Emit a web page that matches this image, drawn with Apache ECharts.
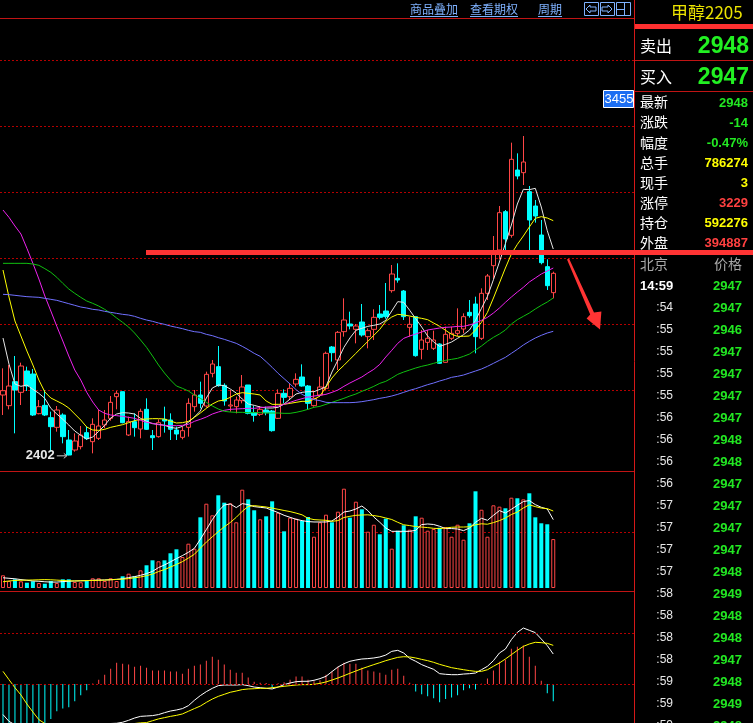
<!DOCTYPE html>
<html><head><meta charset="utf-8">
<script src="https://cdn.jsdelivr.net/npm/echarts@6.0.0/dist/echarts.min.js"></script>
<style>html,body{margin:0;padding:0;background:#000;overflow:hidden}#c{width:753px;height:723px}</style>
</head><body><div id="c"></div>
<script>
// ---------- data ----------
const opens  = [2583,2551,2623,2591,2655,2646,2527,2552,2515,2486, 2523,2448,2418,2428,2470,2443,2453,2493,2513,2578, 2593,2463,2503,2481,2540,2461,2458,2510,2508,2478, 2456,2486,2548,2583,2550,2648,2668,2612,2550,2548, 2566,2613,2530,2525,2538,2535,2513,2588,2578,2616, 2637,2610,2551,2583,2603,2727,2688,2773,2796,2780, 2802,2758,2780,2826,2835,2896,2933,2895,2786,2818, 2720,2741,2723,2736,2681,2753,2768,2781,2831,2856, 2753,2888,2971,3018,3133,3062,3258,3250,3193,3150, 3063,2968,2890];
const closes = [2596,2610,2598,2670,2610,2523,2548,2523,2488,2538, 2458,2403,2445,2463,2452,2495,2490,2508,2561,2588, 2500,2503,2485,2534,2480,2455,2500,2505,2480,2466, 2476,2558,2583,2558,2645,2676,2611,2565,2553,2568, 2607,2528,2522,2540,2530,2476,2588,2576,2603,2630, 2610,2558,2573,2607,2708,2710,2771,2808,2790,2790, 2763,2776,2816,2816,2818,2946,2928,2818,2795,2701, 2748,2753,2748,2678,2765,2768,2776,2818,2821,2758, 2888,2940,3008,3130,3051,3290,3240,3282,3108,3120, 2980,2911,2948];
const highs  = [2663,2673,2700,2680,2668,2661,2568,2598,2533,2550, 2528,2478,2468,2490,2488,2513,2538,2538,2580,2595, 2593,2518,2528,2542,2573,2478,2510,2548,2528,2488, 2488,2573,2598,2623,2653,2688,2730,2618,2598,2578, 2643,2613,2551,2550,2548,2538,2600,2600,2618,2648, 2675,2613,2593,2638,2713,2730,2775,2873,2833,2796, 2856,2783,2840,2853,2919,2973,2978,2898,2818,2818, 2778,2778,2776,2738,2788,2788,2843,2828,2868,2878, 2903,2946,3060,3150,3138,3340,3308,3360,3210,3168, 3108,2990,2953];
const lows   = [2523,2540,2468,2553,2595,2520,2525,2520,2413,2473, 2438,2402,2413,2420,2448,2408,2448,2483,2506,2540, 2498,2460,2458,2453,2478,2418,2455,2470,2448,2448, 2450,2458,2533,2543,2545,2636,2608,2551,2533,2528, 2558,2525,2503,2520,2522,2473,2511,2558,2568,2608, 2608,2538,2548,2578,2598,2683,2658,2758,2780,2738, 2758,2723,2748,2810,2812,2890,2920,2808,2758,2698, 2690,2718,2718,2676,2680,2748,2760,2768,2815,2708, 2748,2868,2930,2990,3018,3055,3230,3213,3018,3100, 2975,2898,2873];
const ma5    = [2754,2676,2616,2609,2613,2600,2588,2573,2543,2526, 2510,2493,2475,2462,2451,2457,2474,2492,2514,2526, 2530,2529,2526,2513,2504,2497,2495,2492,2486,2483, 2489,2501,2517,2535,2574,2604,2613,2611,2601,2589, 2571,2556,2552,2547,2544,2544,2546,2556,2571,2586, 2591,2593,2593,2600,2608,2652,2688,2726,2754,2777, 2783,2789,2792,2796,2807,2835,2863,2861,2837,2812, 2787,2760,2742,2729,2735,2742,2753,2764,2778,2807, 2843,2879,2929,2982,3037,3093,3156,3200,3199,3203, 3147,3076,3021];
const ma10   = [2958,2877,2805,2760,2715,2673,2628,2592,2574,2565, 2556,2544,2526,2508,2487,2478,2477,2480,2486,2490, 2494,2500,2506,2510,2511,2512,2512,2511,2505,2499, 2500,2504,2516,2529,2543,2556,2565,2568,2576,2586, 2590,2588,2586,2583,2565,2555,2555,2555,2558,2561, 2564,2564,2570,2580,2607,2634,2655,2672,2690,2708, 2726,2744,2762,2780,2804,2817,2825,2823,2820,2816, 2813,2809,2799,2789,2777,2765,2759,2759,2760,2778, 2801,2831,2874,2919,2964,3006,3035,3060,3087,3113, 3118,3114,3106];
const ma20   = [3138,3116,3090,3066,3023,2978,2931,2880,2835,2789, 2745,2700,2658,2628,2591,2562,2538,2528,2523,2521, 2519,2516,2513,2507,2501,2498,2494,2492,2491,2491, 2492,2495,2504,2510,2517,2526,2532,2537,2540,2541, 2542,2543,2543,2545,2547,2548,2550,2555,2561,2567, 2572,2577,2580,2582,2585,2591,2598,2609,2619,2628, 2637,2649,2660,2675,2697,2717,2738,2753,2760,2766, 2772,2778,2781,2784,2786,2787,2789,2789,2793,2799, 2807,2816,2829,2844,2861,2877,2892,2906,2922,2934, 2946,2955,2964];
const ma40   = [2978,2978,2978,2978,2978,2976,2972,2962,2951,2936, 2918,2901,2888,2876,2865,2858,2850,2840,2828,2814, 2801,2787,2769,2748,2726,2700,2673,2649,2628,2610, 2603,2595,2583,2573,2561,2550,2541,2534,2532,2531, 2531,2530,2530,2530,2529,2529,2529,2528,2528,2531, 2535,2540,2546,2549,2555,2561,2567,2573,2580,2586, 2594,2601,2609,2618,2624,2634,2645,2652,2658,2664, 2669,2673,2678,2683,2687,2690,2693,2699,2706,2718, 2730,2744,2756,2766,2778,2796,2809,2819,2829,2841, 2852,2862,2874];
const ma60   = [2885,2884,2882,2880,2878,2877,2876,2873,2870,2867, 2862,2857,2852,2847,2844,2840,2838,2834,2831,2828, 2825,2823,2819,2813,2808,2804,2799,2795,2790,2786, 2782,2777,2773,2771,2765,2761,2755,2750,2744,2738, 2729,2719,2708,2699,2683,2666,2648,2632,2616,2599, 2585,2576,2569,2566,2561,2560,2560,2560,2560,2561, 2563,2566,2569,2573,2576,2580,2585,2591,2597,2602, 2608,2614,2619,2625,2630,2636,2639,2643,2649,2655, 2661,2669,2678,2687,2696,2708,2720,2733,2744,2754, 2762,2769,2774];
// volume in thousand lots
const volumes = [204,112,140,108,85,108,80,69,112,80, 140,140,96,92,112,156,156,112,156,112, 188,230,188,284,365,445,429,445,558,622, 498,712,632,1136,1355,1168,1490,1371,1361,1056, 1580,1425,1249,1104,1152,1393,1210,911,1130,1114, 1077,1141,824,1056,1178,1056,1226,1596,1130,1387, 1265,905,1017,863,1114,632,921,1008,937,1152, 1130,921,948,969,980,824,1017,776,1040,1554, 1258,824,1329,1307,1281,1451,1442,1425,1522,1136, 1040,1024,786.274];
const volMa5  = [164,156,148,135,124,113,108,100,95,95, 103,108,113,116,119,124,127,129,133,140, 148,167,183,204,231,268,328,370,421,472, 521,574,638,783,939,1099,1233,1334,1350,1292, 1356,1340,1308,1297,1286,1249,1212,1168,1136,1104, 1083,1067,1061,1061,1061,1077,1141,1221,1237,1270, 1318,1244,1141,1056,964,911,911,911,911,927, 1019,1029,1021,992,955,955,948,922,964,1056, 1120,1088,1168,1244,1205,1265,1329,1389,1405,1340, 1297,1270,1099];
const volMa10 = [100,113,121,124,127,129,132,135,132,127, 121,116,113,116,119,121,124,127,132,137, 143,151,164,177,199,223,264,296,337,378, 424,481,542,641,738,823,906,984,1053,1136, 1233,1310,1324,1313,1302,1284,1265,1246,1228,1204, 1176,1120,1099,1093,1088,1072,1083,1133,1152,1168, 1173,1176,1164,1149,1125,1101,1056,1016,1003,987, 979,971,959,955,964,976,980,980,984,1016, 1032,1025,1051,1083,1125,1181,1221,1286,1337,1308, 1284,1276,1237];
const macd = [-48,-50,-50,-48,-45,-42,-38,-33,-27.4,-21.4, -19.3,-18.3,-13.6,-8.9,-5.0,0.3,3.4,7.3,12.0,16.7, 15.9,15.2,13.6,14.4,12.8,10.5,10.5,10.5,9.7,9.7, 8.1,12.0,14.4,15.2,18.3,21.4,19.1,15.2,11.2,8.9, 8.9,5.0,1.8,1.0,0.8,-2.9,0.5,1.3,3.4,5.8, 5.8,3.4,2.1,2.9,7.3,9.7,13.6,16.7,15.9,15.9, 12.8,10.5,9.7,8.9,7.3,11.2,12.0,6.5,1.0,-5.8, -8.1,-9.7,-11.2,-14.4,-11.8,-10.5,-8.9,-5.0,-3.4,-4.4, 0.2,4.4,10.5,17.5,19.1,27.7,29.3,30.1,21.4,14.4, 2.6,-7.3,-13.6];
const dif = [-24,-29.3,-32,-35,-37,-39,-41,-42,-42,-42, -41,-40,-39,-37,-35,-33,-32,-31,-31,-30.8, -30,-28.5,-26.7,-25.4,-25.1,-24.8,-24,-22.5,-21.2,-20.4, -19.3,-17,-12.8,-9.1,-6,-3.4,-1.3,-0.8,-0.8,-0.8, -0.5,-1.3,-2.4,-2.9,-3.4,-3.9,-2.4,-0.5,0.8,1.8, 2.1,2.1,2.9,4.2,6,9.7,13.3,15.9,17.8,18.8, 19.6,19.9,20.4,21.2,22.7,25.6,26.4,24.3,20.1,17.8, 15.2,13.3,11.5,8.1,7.6,7.3,7.3,7.8,8.1,8.6, 11.2,13.9,18.3,24.3,27.4,34.8,40.5,43.9,42.1,40.3, 35.3,30.1,23.5];
const dea = [9.9,3.4,-2.9,-8.6,-15.7,-22,-28,-31,-33,-34.5, -35.5,-36.5,-37,-37,-36.5,-36,-35.5,-35,-34,-33, -32,-31.5,-31,-30.5,-30.3,-28.8,-27.4,-26.4,-25.4,-24.6, -23.5,-21.4,-19.3,-17.3,-14.4,-11.8,-9.7,-8.1,-6.5,-5.5, -4.4,-3.9,-3.7,-3.4,-3.4,-2.9,-2.4,-1.8,-1.3,-0.8, -0.5,-0.5,-0.3,0.5,1.6,3.1,4.7,6.5,8.4,10.2, 12,13.6,15.2,16.7,18.3,19.6,20.9,21.4,21.2,20.4, 19.3,18.3,17,15.4,14.1,12.8,12,11.2,10.5,9.9, 9.9,11.2,13.9,16.5,19.6,23,26.4,29.5,31.4,32.7, 32.4,31.9,30.3];
const macdLevels = [0, 40];
const categories = opens.map((_, i) => 'K' + (i + 1));
const markPrice = 3455;

// right panel texts
const titleText = '甲醇2205';
const bidAsk = [['卖出', '2948'], ['买入', '2947']];
const quoteLabels = ['最新','涨跌','幅度','总手','现手','涨停','持仓','外盘'];
const quoteValues = ['2948','-14','-0.47%','786274','3','3229','592276','394887'];
const quoteKinds  = ['down','down','down','plain','plain','up','plain','up'];
const tickTimes  = ['14:59',':54',':55',':55',':55',':55',':56',':56',':56',':56',':57',':57',':57',':57',':58',':58',':58',':58',':59',':59',':59'];
const tickPrices = [2947,2947,2946,2947,2947,2947,2947,2948,2948,2947,2947,2947,2947,2948,2949,2948,2948,2947,2948,2949,2948];
const toolbarItems = ['商品叠加','查看期权','周期'];

// ---------- chart ----------
const RED = '#ff4646', CYAN = '#00ffff', GRIDRED = '#b40000', BORDER = '#c01414';
const CJK = '"Noto Sans CJK SC", sans-serif';
const NUM = '"Liberation Sans", Arial, sans-serif';
const slots = 106;
const axisCats = categories.concat(Array(slots - categories.length).fill(''));
const dotted = {color:GRIDRED, type:[2,2], width:1};

function xAx(g) {
  return {type:'category', gridIndex:g, data:axisCats, boundaryGap:true,
    axisLine:{show:false}, axisTick:{show:false}, axisLabel:{show:false}, splitLine:{show:false}};
}
function yAx(g, min, max, interval, showMax, split) {
  return {type:'value', gridIndex:g, min, max, interval,
    axisLine:{show:false}, axisTick:{show:false}, axisLabel:{show:false},
    splitLine:{show:split !== false, showMinLine:false, showMaxLine:showMax, lineStyle:dotted}};
}
function line(data, color, g) {
  return {type:'line', data, xAxisIndex:g, yAxisIndex:g, symbol:'none', showSymbol:false,
    lineStyle:{color, width:1}, itemStyle:{color}, silent:true, z:4};
}

const chart = echarts.init(document.getElementById('c'));
chart.setOption({
  animation:false,
  backgroundColor:'#000',
  grid:[
    {left:0, top:60, width:634, height:396},
    {left:0, top:476, width:634, height:112},
    {left:0, top:582, width:634, height:141}
  ],
  xAxis:[xAx(0), xAx(1), xAx(2)],
  yAxis:[yAx(0, 2400, 3588, 198, true), yAx(1, 0, 1800, 900, false), yAx(2, -30.6, 80, null, false, false)],
  series:[
    {type:'candlestick', xAxisIndex:0, yAxisIndex:0, barWidth:5, z:3,
     data: opens.map((o, i) => [o, closes[i], lows[i], highs[i]]),
     itemStyle:{color:'#000000', color0:CYAN, borderColor:RED, borderColor0:CYAN, borderWidth:1}},
    line(ma5, '#e6e6e6', 0),
    line(ma10, '#ffff00', 0),
    line(ma20, '#ee22ee', 0),
    line(ma40, '#10c010', 0),
    line(ma60, '#7070ff', 0),
    {type:'bar', xAxisIndex:1, yAxisIndex:1, barWidth:4, z:3,
     data: volumes.map((v, i) => ({value:v, itemStyle: closes[i] >= opens[i]
        ? {color:'#000000', borderColor:RED, borderWidth:1}
        : {color:CYAN, borderWidth:0}}))},
    line(volMa5, '#ffffff', 1),
    line(volMa10, '#ffff00', 1),
    {type:'bar', xAxisIndex:2, yAxisIndex:2, barWidth:1, z:3,
     data: macd.map(v => ({value:v, itemStyle:{color: v >= 0 ? RED : CYAN}})),
     markLine:{silent:true, symbol:'none', label:{show:false}, lineStyle:dotted,
       data: macdLevels.map(v => ({yAxis:v}))}},
    line(dif, '#ffffff', 2),
    line(dea, '#ffff00', 2)
  ]
});

// ---------- decorations & texts ----------
const g = [];
const z = 100;
function hline(x1, x2, y, stroke, w) { g.push({type:'line', z, silent:true, shape:{x1, y1:y, x2, y2:y}, style:{stroke, lineWidth:w || 1}}); }
function vline(x, y1, y2, stroke) { g.push({type:'line', z, silent:true, shape:{x1:x, y1, x2:x, y2}, style:{stroke, lineWidth:1}}); }
function txt(text, x, y, font, fill, align) {
  g.push({type:'text', z:z + 1, silent:true, style:{text, x, y, font, fill, align: align || 'left', verticalAlign:'middle'}});
}

// panel borders
hline(0, 634, 18.5, BORDER);
hline(0, 634, 471.5, BORDER);
hline(0, 634, 591.5, BORDER);
vline(634.5, 0, 723, '#d41818');
hline(635, 753, 60.5, BORDER);
hline(635, 753, 91.5, BORDER);
g.push({type:'rect', z, silent:true, shape:{x:635, y:24, width:118, height:5}, style:{fill:'#ff3030'}});

// toolbar
const tbX = [410, 470, 538];
toolbarItems.forEach((t, i) => {
  txt(t, tbX[i], 9, '12px ' + CJK, '#7fb2ff');
  const w = t.length * 12;
  hline(tbX[i], tbX[i] + w, 16.5, '#7fb2ff');
});
[[584, 2], [600, 2], [616, 2]].forEach(p => {
  g.push({type:'rect', z, silent:true, shape:{x:p[0] + 0.5, y:p[1] + 0.5, width:14, height:13}, style:{fill:'none', stroke:'#7fb2ff', lineWidth:1}});
});
g.push({type:'polygon', z, silent:true, shape:{points:[[586,9],[590,5],[590,7],[596,7],[596,11],[590,11],[590,13]]}, style:{fill:'none', stroke:'#7fb2ff', lineWidth:1}});
g.push({type:'polygon', z, silent:true, shape:{points:[[612,9],[608,5],[608,7],[602,7],[602,11],[608,11],[608,13]]}, style:{fill:'none', stroke:'#7fb2ff', lineWidth:1}});
vline(624.5, 2.5, 15.5, '#7fb2ff');
hline(616.5, 624.5, 9.5, '#7fb2ff');

// user-drawn red level line and arrow
g.push({type:'rect', z, silent:true, shape:{x:146, y:250, width:607, height:5}, style:{fill:'#ff3434'}});
g.push({type:'polygon', z, silent:true, shape:{points:[[567,259.6],[569,258.6],[594,312.6],[601.4,311.4],[600,329.6],[586.6,318.6],[590.2,314.4]]}, style:{fill:'#ff3434'}});

// right panel
txt(titleText, 671, 13, '17px ' + CJK, '#ece400');
bidAsk.forEach((r, i) => {
  const y = 46 + i * 30.5;
  txt(r[0], 640, y, '16px ' + CJK, '#ffffff');
  txt(r[1], 749, y + 1, 'bold 23px ' + NUM, '#22f022', 'right');
});
const kindColor = {down:'#22e822', plain:'#ffff00', up:'#ff4040'};
quoteLabels.forEach((l, i) => {
  const y = 102 + i * 20.1;
  txt(l, 640, y, '14px ' + CJK, '#ffffff');
  txt(quoteValues[i], 748, y + 1, 'bold 13px ' + NUM, kindColor[quoteKinds[i]], 'right');
});
txt('北京', 640, 264, '14px ' + CJK, '#a8a8a8');
txt('价格', 742, 264, '14px ' + CJK, '#a8a8a8', 'right');
tickTimes.forEach((t, i) => {
  const y = i === 0 ? 286 : 308 + (i - 1) * 22;
  if (i === 0) txt(t, 640, y, 'bold 13px ' + NUM, '#ffffff');
  else txt(t, 673, y, '12px ' + NUM, '#e8e8e8', 'right');
  txt(String(tickPrices[i]), 742, y, 'bold 13px ' + NUM, '#22e822', 'right');
});

// labels positioned through the chart's own scales
let lowIdx = 0;
lows.forEach((v, i) => { if (v < lows[lowIdx]) lowIdx = i; });
const lp = chart.convertToPixel({gridIndex:0}, [lowIdx, lows[lowIdx]]);
txt(String(lows[lowIdx]), lp[0] - 14, lp[1], 'bold 13px ' + NUM, '#e8e8e8', 'right');
g.push({type:'line', z, silent:true, shape:{x1:lp[0] - 12, y1:lp[1] + 0.5, x2:lp[0] - 2, y2:lp[1] + 0.5}, style:{stroke:'#c8c8c8', lineWidth:1}});
g.push({type:'polyline', z, silent:true, shape:{points:[[lp[0] - 5, lp[1] - 2], [lp[0] - 2, lp[1] + 0.5], [lp[0] - 5, lp[1] + 3]]}, style:{stroke:'#c8c8c8', fill:'none', lineWidth:1}});
const py = chart.convertToPixel({yAxisIndex:0}, markPrice);
g.push({type:'rect', z, silent:true, shape:{x:603.5, y:Math.round(py) - 13.5, width:30, height:17}, style:{fill:'#1c6ef2', stroke:'#ffffff', lineWidth:1}});
txt(String(markPrice), 619, Math.round(py) - 5, '13px ' + NUM, '#ffffff', 'center');

chart.setOption({graphic: g});
</script></body></html>
